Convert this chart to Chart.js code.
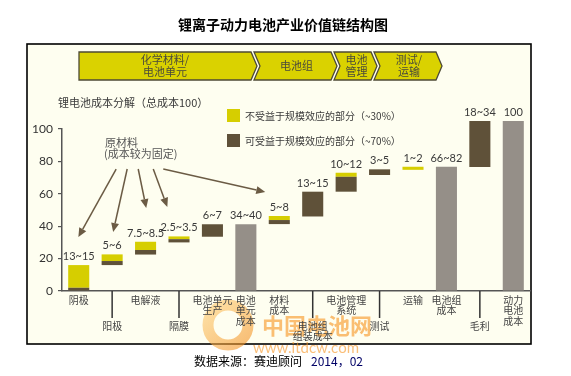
<!DOCTYPE html>
<html><head><meta charset="utf-8">
<script src="https://cdn.jsdelivr.net/npm/chart.js@4.4.1/dist/chart.umd.min.js"></script>
<style>html,body{margin:0;padding:0;background:#fff;}canvas{display:block;}</style>
</head><body>
<canvas id="c" width="571" height="376"></canvas>
<script>
// ---------- data ----------
const categories = ['阴极','阳极','电解液','隔膜','电池单元生产','电池单元成本','材料成本','电池组组装成本','电池管理系统','测试','运输','电池组成本','毛利','动力电池成本'];
const xLabelLines = [['阴极'],['阳极'],['电解液'],['隔膜'],['电池单元','生产'],['电池','单元','成本'],['材料','成本'],['电池组','组装成本'],['电池管理','系统'],['测试'],['运输'],['电池组','成本'],['毛利'],['动力','电池','成本']];
const xLabelRow = [1,2,1,2,1,1,1,2,1,2,1,1,2,1];
const valueLabels = ['13~15','5~6','7.5~8.5','2.5~3.5','6~7','34~40','5~8','13~15','10~12','3~5','1~2','66~82','18~34','100'];
// brown: part that benefits from scale effects
const scaleBenefitPart = [[0,2],[16,18.5],[22.5,25.3],[30,32],[33.5,41.2],null,[41.3,43.8],[46,61.3],[61.3,70.5],[71.6,75.1],null,null,[76.5,105],null];
// yellow: part that does not benefit from scale effects
const fixedPart = [[2,16],[18.5,22.6],[25.3,30.4],[32,33.7],null,null,[43.8,46.3],null,[70.5,73],null,[74.8,76.7],null,null,null];
// gray: cumulative totals
const totalCost = [null,null,null,null,null,[0,41.2],null,null,null,null,null,[0,76.7],null,[0,105]];
const yTicks = [0,20,40,60,80,100];
const stageLabels = [['化学材料/','电池单元'],['电池组'],['电池','管理'],['测试/','运输']];
const legendLabels = ['不受益于规模效应的部分（~30%）','可受益于规模效应的部分（~70%）'];
const chartTitle = '锂离子动力电池产业价值链结构图';
const chartSubtitle = '锂电池成本分解（总成本100）';
const noteLines = ['原材料','(成本较为固定)'];
const sourceText = ['数据来源：赛迪顾问','2014，02'];
// annotation arrows: [fromCategoryIndex, fromValue, toCategoryIndex, toValue]
const noteArrows = [[1.12,75.3,-0.01,33.3],[1.45,75.3,1.03,36.4],[1.78,75.3,2.02,51.2],[2.23,75.3,2.65,51.9],[2.53,75.3,5.58,61.1]];

// ---------- styles ----------
const YELLOW = '#d6ce00', BROWN = '#5f5139', GRAY = '#958f88', CREAM = '#fefef0';
const CJK = '"Noto Sans CJK SC", "Noto Sans", sans-serif';
const NUM = 'Lato, "Noto Sans CJK SC", sans-serif';

const decor = {
  id: 'decor',
  beforeDraw(chart) {
    const c = chart.ctx;
    c.save();
    c.fillStyle = '#fff'; c.fillRect(0,0,chart.width,chart.height);
    // frame
    c.fillStyle = CREAM; c.fillRect(27,44,504,300);
    c.strokeStyle = '#000'; c.lineWidth = 1.6; c.strokeRect(27,44,504,300);
    // title
    c.fillStyle = '#000'; c.font = 'bold 14px ' + CJK; c.textAlign = 'center'; c.textBaseline = 'middle';
    c.fillText(chartTitle, 283, 25);
    // chevrons
    const chev = [[79,257,true],[254,337,false],[334,377,false],[374,442,false]];
    const top = 52, bot = 80, mid = 66, d = 6;
    chev.forEach((ch, i) => {
      const [x0, tip, first] = ch;
      c.beginPath();
      c.moveTo(x0, top); c.lineTo(tip - d, top); c.lineTo(tip, mid); c.lineTo(tip - d, bot); c.lineTo(x0, bot);
      if (!first) c.lineTo(x0 + d, mid);
      c.closePath();
      c.fillStyle = '#dad200'; c.fill();
      c.strokeStyle = '#4d4a35'; c.lineWidth = 1.3; c.stroke();
      const lines = stageLabels[i];
      const cx = first ? (x0 + tip) / 2 - 3 : (x0 + tip) / 2 + 1;
      c.fillStyle = '#4a4a3a'; c.font = '11px ' + CJK; c.textAlign = 'center';
      const lh = 12; const y0 = mid - (lines.length - 1) * lh / 2;
      lines.forEach((t, k) => c.fillText(t, cx, y0 + k * lh));
    });
    // subtitle
    c.fillStyle = '#3a3a3a'; c.font = '11px ' + CJK; c.textAlign = 'left';
    c.fillText(chartSubtitle, 58, 103);
    // legend
    c.fillStyle = YELLOW; c.fillRect(227,109,13,13);
    c.fillStyle = BROWN; c.fillRect(227,134,13,13);
    c.fillStyle = '#3a3a3a'; c.font = '10px ' + CJK;
    c.fillText(legendLabels[0], 245, 116);
    c.fillText(legendLabels[1], 245, 141);
    // source
    c.font = '12px ' + CJK; c.fillStyle = '#000';
    c.fillText(sourceText[0], 194, 361);
    c.fillStyle = '#000066';
    c.fillText(sourceText[1], 311, 361);
    c.restore();
  },
  afterDatasetsDraw(chart) {
    const c = chart.ctx, xs = chart.scales.x, ys = chart.scales.y;
    c.save();
    // watermark
    c.globalAlpha = 0.6;
    const g = c.createLinearGradient(205,300,250,350);
    g.addColorStop(0,'#ffd27a'); g.addColorStop(1,'#f28c1b');
    c.strokeStyle = g; c.lineWidth = 11;
    c.beginPath(); c.arc(228,325,20,0,Math.PI*2); c.stroke();
    c.fillStyle = '#f7931e'; c.font = 'bold 22px ' + CJK; c.textAlign = 'left'; c.textBaseline = 'middle';
    c.fillText('中国电池网', 262, 326);
    c.font = '15px ' + NUM;
    c.fillText('www.itdcw.com', 253, 348);
    c.globalAlpha = 1;
    // note text
    c.fillStyle = '#555'; c.font = '11px ' + CJK; c.textAlign = 'left';
    const nx = xs.getPixelForValue(0.79);
    c.fillText(noteLines[0], nx, ys.getPixelForValue(91.4));
    c.fillText(noteLines[1], nx - 1, ys.getPixelForValue(84.6));
    // arrows
    c.strokeStyle = '#6b5b44'; c.fillStyle = '#6b5b44'; c.lineWidth = 1.5;
    noteArrows.forEach(a => {
      const x1 = xs.getPixelForValue(a[0]), y1 = ys.getPixelForValue(a[1]);
      const x2 = xs.getPixelForValue(a[2]), y2 = ys.getPixelForValue(a[3]);
      const ang = Math.atan2(y2 - y1, x2 - x1), L = 9, W = 4;
      const bx = x2 - L * Math.cos(ang), by = y2 - L * Math.sin(ang);
      c.beginPath(); c.moveTo(x1, y1); c.lineTo(bx, by); c.stroke();
      c.beginPath(); c.moveTo(x2, y2);
      c.lineTo(bx + W * Math.sin(ang), by - W * Math.cos(ang));
      c.lineTo(bx - W * Math.sin(ang), by + W * Math.cos(ang));
      c.closePath(); c.fill();
    });
    // value labels
    c.fillStyle = '#3a3a3a'; c.font = '11px ' + NUM; c.textAlign = 'center'; c.textBaseline = 'bottom';
    categories.forEach((cat, i) => {
      let topV = -Infinity;
      [scaleBenefitPart, fixedPart, totalCost].forEach(s => { if (s[i]) topV = Math.max(topV, s[i][1]); });
      c.fillText(valueLabels[i], xs.getPixelForValue(i), ys.getPixelForValue(topV) - 3);
    });
    // x labels & separators
    const base = ys.getPixelForValue(0);
    c.font = '10px ' + CJK; c.fillStyle = '#444'; c.textBaseline = 'middle';
    categories.forEach((cat, i) => {
      const px = xs.getPixelForValue(i);
      const y0 = xLabelRow[i] === 1 ? base + 9 : base + 35;
      xLabelLines[i].forEach((t, k) => c.fillText(t, px, y0 + k * 10.5));
      if (xLabelRow[i] === 2) {
        c.strokeStyle = '#333'; c.lineWidth = 1.5;
        c.beginPath(); c.moveTo(px, base); c.lineTo(px, base + 27); c.stroke();
      }
    });
    c.restore();
  }
};

const common = { grouped: false, barPercentage: 0.63, categoryPercentage: 1, clip: false, borderWidth: 0 };
new Chart(document.getElementById('c'), {
  type: 'bar',
  data: {
    labels: categories,
    datasets: [
      Object.assign({ label: legendLabels[1], data: scaleBenefitPart, backgroundColor: BROWN }, common),
      Object.assign({ label: legendLabels[0], data: fixedPart, backgroundColor: YELLOW }, common),
      Object.assign({ label: 'total', data: totalCost, backgroundColor: GRAY }, common)
    ]
  },
  options: {
    responsive: false, animation: false, devicePixelRatio: 1,
    layout: { padding: { top: 129, right: 41, left: 0, bottom: 0 } },
    plugins: { legend: { display: false }, tooltip: { enabled: false } },
    scales: {
      x: {
        ticks: { display: false },
        grid: { display: false, drawTicks: false },
        border: { display: true, color: '#555', width: 1.5 },
        afterFit(s) { s.height = 85; }
      },
      y: {
        min: 0, max: 100,
        afterBuildTicks(s) { s.ticks = yTicks.map(v => ({ value: v })); },
        ticks: { color: '#333', font: { size: 12, family: NUM }, padding: 5 },
        grid: { drawOnChartArea: false, drawTicks: true, tickLength: 4, color: '#555', lineWidth: 1.2 },
        border: { color: '#555', width: 1.5 },
        afterFit(s) { s.width = 62; }
      }
    }
  },
  plugins: [decor]
});
</script>
</body></html>
